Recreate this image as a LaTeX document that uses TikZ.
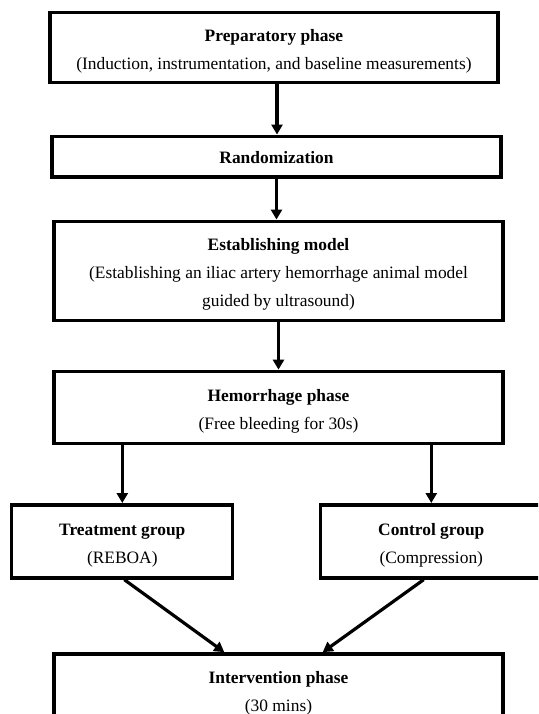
\documentclass[tikz,border=0pt]{standalone}
\usepackage{fontspec}
\setmainfont{Liberation Serif}
\usetikzlibrary{arrows.meta}
\newcommand\topgap{\rule{0pt}{19pt}}
\begin{document}
\begin{tikzpicture}[x=1pt,y=-1pt,
  box/.style={draw, line width=3.3pt, minimum width=449pt, align=center, inner sep=0pt,
    font=\fontsize{17.4}{28}\selectfont},
  gbox/.style={box, minimum width=221pt, minimum height=73pt},
  arr/.style={line width=3.2pt, -{Triangle[width=11pt,length=10pt]}, shorten >=0.3pt}]
\useasboundingbox (0,0) rectangle (538,714);
\clip (0,0) rectangle (538,714);
\node[box, minimum width=448pt, minimum height=70pt] (prep) at (273.9,47.5)
  {\topgap\textbf{Preparatory phase}\\(Induction, instrumentation, and baseline measurements)};
\node[box, minimum height=40.5pt] (rand) at (276.5,156.75) {\rule{0pt}{14pt}\textbf{Randomization}};
\node[box, minimum height=99pt] (model) at (278.5,271)
  {\topgap\textbf{Establishing model}\\(Establishing an iliac artery hemorrhage animal model\\guided by ultrasound)};
\node[box, minimum height=72pt] (hem) at (278.5,407.6)
  {\topgap\textbf{Hemorrhage phase}\\(Free bleeding for 30s)};
\node[gbox] (treat) at (122.3,541.5) {\topgap\textbf{Treatment group}\\(REBOA)};
\node[gbox] (ctrl) at (431.3,541.5) {\topgap\textbf{Control group}\\(Compression)};
\node[box, minimum height=72pt] (interv) at (278.5,690)
  {\topgap\textbf{Intervention phase}\\(30 mins)};
\draw[arr] (prep.south -| rand.north) ++(0.5,0) coordinate (a1) -- (a1 |- rand.north);
\draw[arr] (rand.south) -- (rand.south |- model.north);
\draw[arr] (model.south) -- (model.south |- hem.north);
\draw[arr] (treat.north |- hem.south) -- (treat.north);
\draw[arr] (ctrl.north |- hem.south) -- (ctrl.north);
\draw[arr] ([xshift=2pt]treat.south) -- ([xshift=-54pt]interv.north);
\draw[arr] ([xshift=-7.6pt]ctrl.south) -- ([xshift=44pt]interv.north);
\end{tikzpicture}
\end{document}
